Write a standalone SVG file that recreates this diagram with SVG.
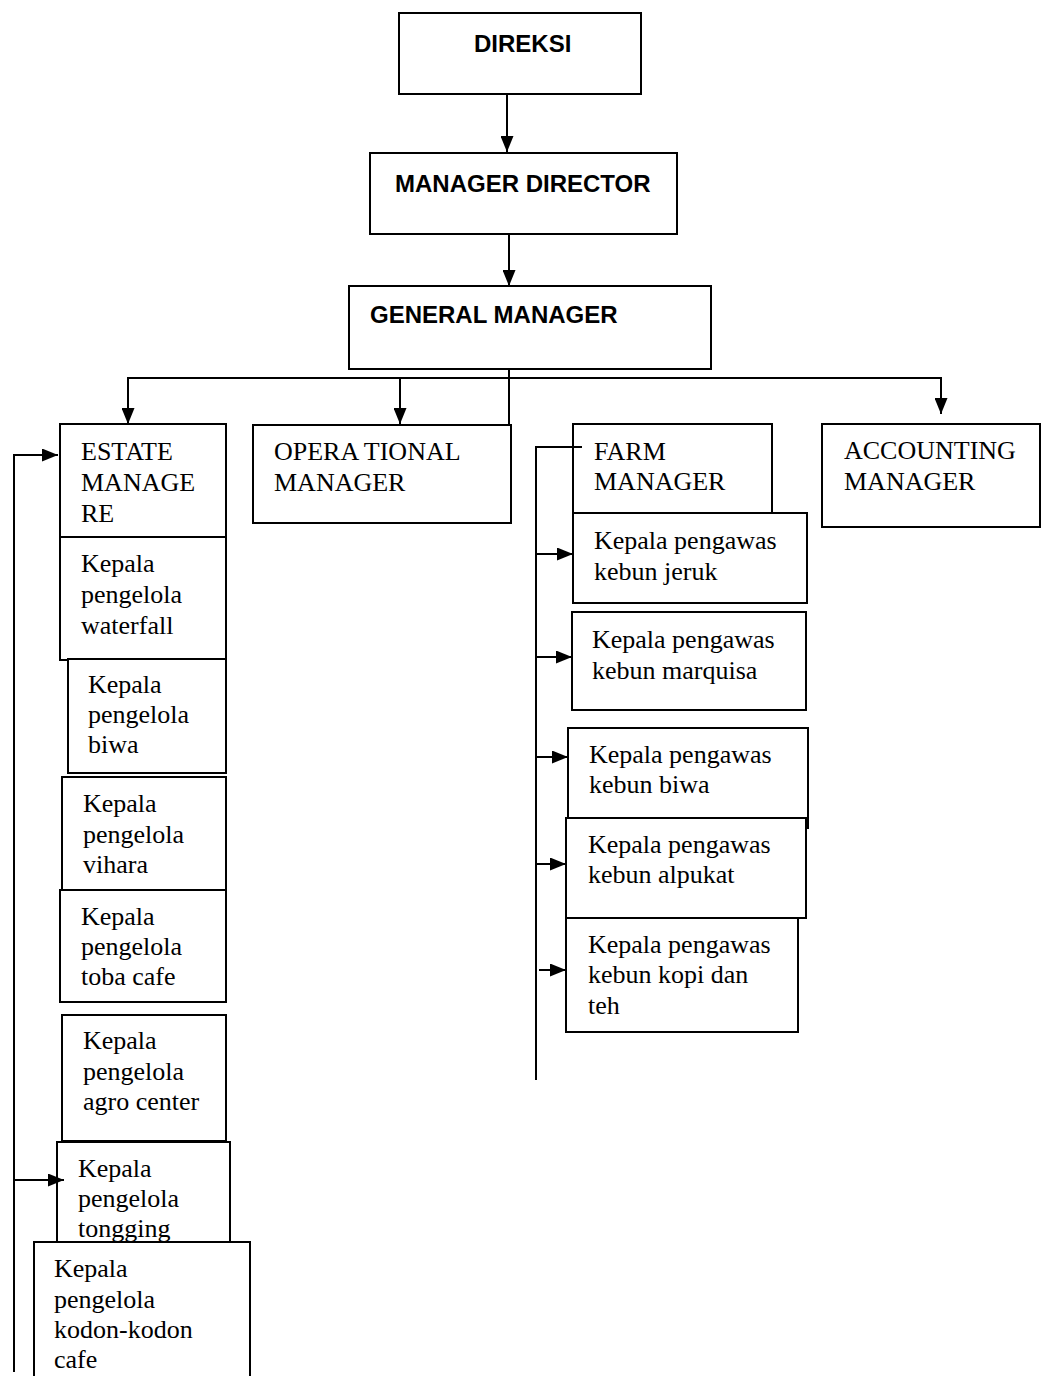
<svg xmlns="http://www.w3.org/2000/svg" width="1041" height="1376" viewBox="0 0 1041 1376">
<style>
.box{fill:#fff;stroke:#000;stroke-width:2}
.b{font-family:"Liberation Sans",Arial,sans-serif;font-weight:bold;font-size:24px;fill:#000}
.t{font-family:"Liberation Serif","Times New Roman",serif;font-size:26px;fill:#000}
.c{fill:none;stroke:#000;stroke-width:2}
.a{fill:none;stroke:#000;stroke-width:2;marker-end:url(#ah)}
</style>
<defs>
<marker id="ah" viewBox="0 0 16 13" refX="16" refY="6.5" markerWidth="16" markerHeight="13" markerUnits="userSpaceOnUse" orient="auto">
<path d="M0,0 L16,6.5 L0,13 z" fill="#000"/>
</marker>
</defs>
<rect width="1041" height="1376" fill="#fff"/>
<g id="direksi"><rect class="box" x="399" y="13" width="242" height="81"/><text class="b" x="474" y="52">DIREKSI</text></g>
<g id="manager-director"><rect class="box" x="370" y="153" width="307" height="81"/><text class="b" x="395" y="192">MANAGER DIRECTOR</text></g>
<g id="general-manager"><rect class="box" x="349" y="286" width="362" height="83"/><text class="b" x="370" y="323">GENERAL MANAGER</text></g>
<g id="estate-manager"><rect class="box" x="60" y="424" width="166" height="113"/><text class="t" x="81"><tspan x="81" y="460">ESTATE</tspan><tspan x="81" y="491">MANAGE</tspan><tspan x="81" y="522">RE</tspan></text></g>
<g id="waterfall"><rect class="box" x="60" y="537" width="166" height="123"/><text class="t"><tspan x="81" y="572">Kepala</tspan><tspan x="81" y="603">pengelola</tspan><tspan x="81" y="634">waterfall</tspan></text></g>
<g id="biwa"><rect class="box" x="68" y="659" width="158" height="114"/><text class="t"><tspan x="88" y="693">Kepala</tspan><tspan x="88" y="723">pengelola</tspan><tspan x="88" y="753">biwa</tspan></text></g>
<g id="vihara"><rect class="box" x="62" y="777" width="164" height="113"/><text class="t"><tspan x="83" y="812">Kepala</tspan><tspan x="83" y="843">pengelola</tspan><tspan x="83" y="873">vihara</tspan></text></g>
<g id="toba-cafe"><rect class="box" x="60" y="890" width="166" height="112"/><text class="t"><tspan x="81" y="925">Kepala</tspan><tspan x="81" y="955">pengelola</tspan><tspan x="81" y="985">toba cafe</tspan></text></g>
<g id="agro-center"><rect class="box" x="62" y="1015" width="164" height="126"/><text class="t"><tspan x="83" y="1049">Kepala</tspan><tspan x="83" y="1080">pengelola</tspan><tspan x="83" y="1110">agro center</tspan></text></g>
<g id="tongging"><rect class="box" x="57" y="1142" width="173" height="101"/><text class="t"><tspan x="78" y="1177">Kepala</tspan><tspan x="78" y="1207">pengelola</tspan><tspan x="78" y="1237">tongging</tspan></text></g>
<g id="kodon-kodon"><rect class="box" x="34" y="1242" width="216" height="145"/><text class="t"><tspan x="54" y="1277">Kepala</tspan><tspan x="54" y="1308">pengelola</tspan><tspan x="54" y="1338">kodon-kodon</tspan><tspan x="54" y="1368">cafe</tspan></text></g>
<g id="operational-manager"><rect class="box" x="253" y="425" width="258" height="98"/><text class="t"><tspan x="274" y="460">OPERA TIONAL</tspan><tspan x="274" y="491">MANAGER</tspan></text></g>
<g id="farm-manager"><rect class="box" x="573" y="424" width="199" height="89"/><text class="t"><tspan x="594" y="460">FARM</tspan><tspan x="594" y="490">MANAGER</tspan></text></g>
<g id="kebun-jeruk"><rect class="box" x="573" y="513" width="234" height="90"/><text class="t"><tspan x="594" y="549">Kepala pengawas</tspan><tspan x="594" y="580">kebun jeruk</tspan></text></g>
<g id="kebun-marquisa"><rect class="box" x="572" y="612" width="234" height="98"/><text class="t"><tspan x="592" y="648">Kepala pengawas</tspan><tspan x="592" y="679">kebun marquisa</tspan></text></g>
<g id="kebun-biwa"><rect class="box" x="568" y="728" width="240" height="100"/><text class="t"><tspan x="589" y="763">Kepala pengawas</tspan><tspan x="589" y="793">kebun biwa</tspan></text></g>
<g id="kebun-alpukat"><rect class="box" x="566" y="818" width="240" height="100"/><text class="t"><tspan x="588" y="853">Kepala pengawas</tspan><tspan x="588" y="883">kebun alpukat</tspan></text></g>
<g id="kebun-kopi"><rect class="box" x="566" y="918" width="232" height="114"/><text class="t"><tspan x="588" y="953">Kepala pengawas</tspan><tspan x="588" y="983">kebun kopi dan</tspan><tspan x="588" y="1014">teh</tspan></text></g>
<g id="accounting-manager"><rect class="box" x="822" y="424" width="218" height="103"/><text class="t"><tspan x="844" y="459">ACCOUNTING</tspan><tspan x="844" y="490">MANAGER</tspan></text></g>
<g id="connectors">
<line class="a" x1="507" y1="94" x2="507" y2="152"/>
<line class="a" x1="509" y1="234" x2="509" y2="286"/>
<line class="c" x1="509" y1="369" x2="509" y2="425"/>
<line class="c" x1="127" y1="378" x2="942" y2="378"/>
<line class="a" x1="128" y1="378" x2="128" y2="424"/>
<line class="a" x1="400" y1="378" x2="400" y2="424"/>
<line class="a" x1="941" y1="378" x2="941" y2="414"/>
<polyline class="c" points="58,455 14,455 14,1372"/>
<line class="a" x1="15" y1="455" x2="58" y2="455"/>
<line class="a" x1="14" y1="1180" x2="64" y2="1180"/>
<polyline class="c" points="582,447 536,447 536,1080"/>
<line class="a" x1="536" y1="554" x2="573" y2="554"/>
<line class="a" x1="536" y1="657" x2="572" y2="657"/>
<line class="a" x1="536" y1="757" x2="568" y2="757"/>
<line class="a" x1="535" y1="864" x2="566" y2="864"/>
<line class="a" x1="539" y1="970" x2="566" y2="970"/>
</g>
</svg>
